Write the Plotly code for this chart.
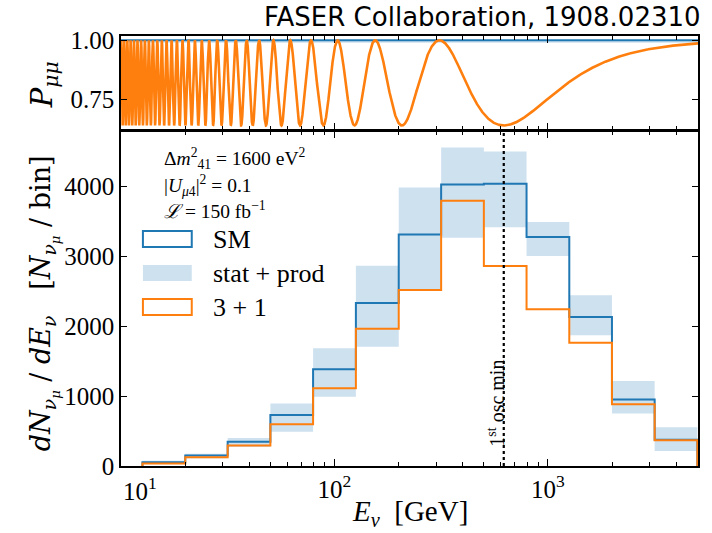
import numpy as np
import plotly.graph_objects as go

# ---- oscillation parameters (sterile neutrino 3+1 scenario) ----
DM2_41 = 1600.0        # eV^2
U_MU4_SQ = 0.1         # |U_mu4|^2
BASELINE_KM = 0.48     # FASER baseline
E_RANGE = (10.0, 5050.0)

# ---- histogram: energy bins and event counts per bin ----
bin_edges = [12.6, 20.0, 31.6, 50.1, 79.4, 126.0, 200.0, 316.0, 501.0,
             794.0, 1259.0, 1995.0, 3162.0, 5012.0]
sm_counts = [55, 150, 345, 730, 1385, 2330, 3310, 4025, 4035, 3275, 2130, 950, 375]
sterile_counts = [35, 125, 292, 598, 1112, 1962, 2516, 3792, 2858, 2240, 1762, 883, 370]
band_low = [38, 112, 272, 490, 990, 1705, 2524, 3262, 3412, 3004, 1871, 752, 214]
band_high = [75, 176, 400, 895, 1682, 2862, 3982, 4552, 4495, 3490, 2443, 1214, 553]

first_min_gev = 1.27 * DM2_41 * BASELINE_KM / (np.pi / 2)

BLUE = "#1f77b4"
ORANGE = "#ff7f0e"
BAND = "rgba(31,119,180,0.22)"
SERIF = "Liberation Serif"
WIDE_SERIF = "DejaVu Serif"

W, H = 712, 533
ML, MR, MT, MB = 121, 12, 36, 67
PW, PH = W - ML - MR, H - MT - MB


def px(xp):
    return (xp - ML) / PW


def py(yp):
    return (H - MB - yp) / PH


def step_xy(edges, vals):
    xs = [edges[0]] + list(edges[:-1]) + [edges[-1]]
    ys = [0] + list(vals) + [0]
    return xs, ys


fig = go.Figure()

# ---- top panel: muon neutrino survival probability ----
E = np.logspace(np.log10(E_RANGE[0]), np.log10(E_RANGE[1]), 24000)
amp = 4 * U_MU4_SQ * (1 - U_MU4_SQ)
P = 1 - amp * np.sin(1.27 * DM2_41 * BASELINE_KM / E) ** 2

fig.add_trace(go.Scatter(x=[E[0], E[-1], E[-1], E[0]], y=[0.989, 0.989, 1.0, 1.0],
                         fill="toself", fillcolor=BAND, line=dict(width=0),
                         mode="lines", xaxis="x", yaxis="y", hoverinfo="skip",
                         showlegend=False))
fig.add_trace(go.Scatter(x=[E[0], E[-1]], y=[1.0, 1.0], mode="lines",
                         line=dict(color=BLUE, width=2.2), xaxis="x", yaxis="y",
                         showlegend=False))
fig.add_trace(go.Scatter(x=E, y=P, mode="lines", line=dict(color=ORANGE, width=2.6),
                         xaxis="x", yaxis="y", showlegend=False))

# ---- bottom panel: event spectrum ----
band_x = list(bin_edges)
fig.add_trace(go.Scatter(x=band_x, y=list(band_low) + [band_low[-1]], mode="lines",
                         line=dict(width=0, shape="hv"), xaxis="x2", yaxis="y2",
                         hoverinfo="skip", showlegend=False))
fig.add_trace(go.Scatter(x=band_x, y=list(band_high) + [band_high[-1]], mode="lines",
                         line=dict(width=0, shape="hv"), fill="tonexty", fillcolor=BAND,
                         xaxis="x2", yaxis="y2", showlegend=False))

sx, sy = step_xy(bin_edges, sm_counts)
fig.add_trace(go.Scatter(x=sx, y=sy, mode="lines", line=dict(color=BLUE, width=2, shape="hv"),
                         xaxis="x2", yaxis="y2", showlegend=False))
ox, oy = step_xy(bin_edges, sterile_counts)
fig.add_trace(go.Scatter(x=ox, y=oy, mode="lines", line=dict(color=ORANGE, width=2, shape="hv"),
                         xaxis="x2", yaxis="y2", showlegend=False))

minor_vals = [v * d for d in (10, 100, 1000) for v in range(2, 10) if v * d < 5100]

axis_common = dict(showline=True, linecolor="black", linewidth=1.5, mirror="allticks",
                   ticks="inside", tickcolor="black", tickwidth=1.2, showgrid=False,
                   zeroline=False, tickfont=dict(family=SERIF, size=25, color="black"))

xrange_log = [1.0, 3.703]
fig.update_layout(
    width=W, height=H,
    margin=dict(l=ML, r=MR, t=MT, b=MB),
    paper_bgcolor="white", plot_bgcolor="white",
    showlegend=False,
    xaxis=dict(type="log", range=xrange_log, anchor="y", domain=[0, 1],
               tickvals=[10, 100, 1000], showticklabels=False, ticklen=7,
               minor=dict(tickvals=minor_vals, ticks="inside", ticklen=4,
                          tickcolor="black", tickwidth=1, showgrid=False),
               **axis_common),
    yaxis=dict(range=[0.622, 1.018], domain=[0.782, 1.0], anchor="x",
               tickvals=[0.75, 1.0], ticktext=["0.75", "1.00"], ticklen=6,
               **axis_common),
    xaxis2=dict(type="log", range=xrange_log, anchor="y2", domain=[0, 1],
                tickvals=[10, 100, 1000],
                ticktext=["", "10<sup>2</sup>", "10<sup>3</sup>"], ticklen=7,
                minor=dict(tickvals=minor_vals, ticks="inside", ticklen=4,
                           tickcolor="black", tickwidth=1, showgrid=False),
                **axis_common),
    yaxis2=dict(range=[0, 4786], domain=[0, 0.7785], anchor="x2",
                tickvals=[0, 1000, 2000, 3000, 4000], ticklen=6,
                **axis_common),
)

# first oscillation minimum marker
fig.add_shape(type="line", xref="x2", yref="y2 domain", x0=first_min_gev, x1=first_min_gev,
              y0=0, y1=1, line=dict(color="black", width=2.2, dash="dot"))

ann = []
# x tick label at the axis start
ann.append(dict(text="10<sup>1</sup>", x=px(140), y=py(471), xref="paper", yref="paper",
                xanchor="center", yanchor="top", showarrow=False,
                font=dict(family=SERIF, size=25, color="black")))
# title
ann.append(dict(text="FASER Collaboration, 1908.02310", x=px(705), y=py(17), xref="paper",
                yref="paper", xanchor="right", yanchor="middle", showarrow=False,
                font=dict(family="DejaVu Sans", size=26, color="black")))
# axis titles
ann.append(dict(text="<i>E</i><sub><i>ν</i></sub>  [GeV]", x=px(411), y=py(513), xref="paper",
                yref="paper", xanchor="center", yanchor="middle", showarrow=False,
                font=dict(family=SERIF, size=29, color="black")))
ann.append(dict(text="<i>dN</i><sub><i>ν</i><sub><i>μ</i></sub></sub> / <i>dE</i><sub><i>ν</i></sub>"
                     "   [<i>N</i><sub><i>ν</i><sub><i>μ</i></sub></sub> / bin]",
                x=px(44), y=py(303), xref="paper", yref="paper", textangle=-90,
                xanchor="center", yanchor="middle", showarrow=False,
                font=dict(family=WIDE_SERIF, size=27, color="black")))
ann.append(dict(text="<i>P</i><sub><i>μμ</i></sub>", x=px(44), y=py(85), xref="paper",
                yref="paper", textangle=-90, xanchor="center", yanchor="middle",
                showarrow=False, font=dict(family=WIDE_SERIF, size=29, color="black")))
# oscillation-minimum label
ann.append(dict(text="1<sup>st</sup> osc min", x=px(497), y=py(403), xref="paper",
                yref="paper", textangle=-90, xanchor="center", yanchor="middle",
                showarrow=False, font=dict(family=SERIF, size=20, color="black")))
# parameter box
params = ["Δ<i>m</i><sup>2</sup><sub>41</sub> = 1600 eV<sup>2</sup>",
          "|<i>U</i><sub><i>μ</i>4</sub>|<sup>2</sup> = 0.1",
          "<i>ℒ</i> = 150 fb<sup>−1</sup>"]
for txt, yc in zip(params, [158, 185, 210]):
    ann.append(dict(text=txt, x=px(162), y=py(yc), xref="paper", yref="paper",
                    xanchor="left", yanchor="middle", showarrow=False,
                    font=dict(family=SERIF, size=19.5, color="black")))

# legend drawn by hand: outlined boxes for step histograms, filled box for band
legend_rows = [("SM", 239, dict(line=dict(color=BLUE, width=2), fillcolor="rgba(0,0,0,0)")),
               ("stat + prod", 273, dict(line=dict(width=0), fillcolor=BAND)),
               ("3 + 1", 307, dict(line=dict(color=ORANGE, width=2), fillcolor="rgba(0,0,0,0)"))]
for label, yc, style in legend_rows:
    fig.add_shape(type="rect", xref="paper", yref="paper", x0=px(143), x1=px(192),
                  y0=py(yc + 8), y1=py(yc - 8), **style)
    ann.append(dict(text=label, x=px(211), y=py(yc), xref="paper", yref="paper",
                    xanchor="left", yanchor="middle", showarrow=False,
                    font=dict(family=SERIF, size=26, color="black")))

fig.update_layout(annotations=ann)
fig.write_html("out.html")
